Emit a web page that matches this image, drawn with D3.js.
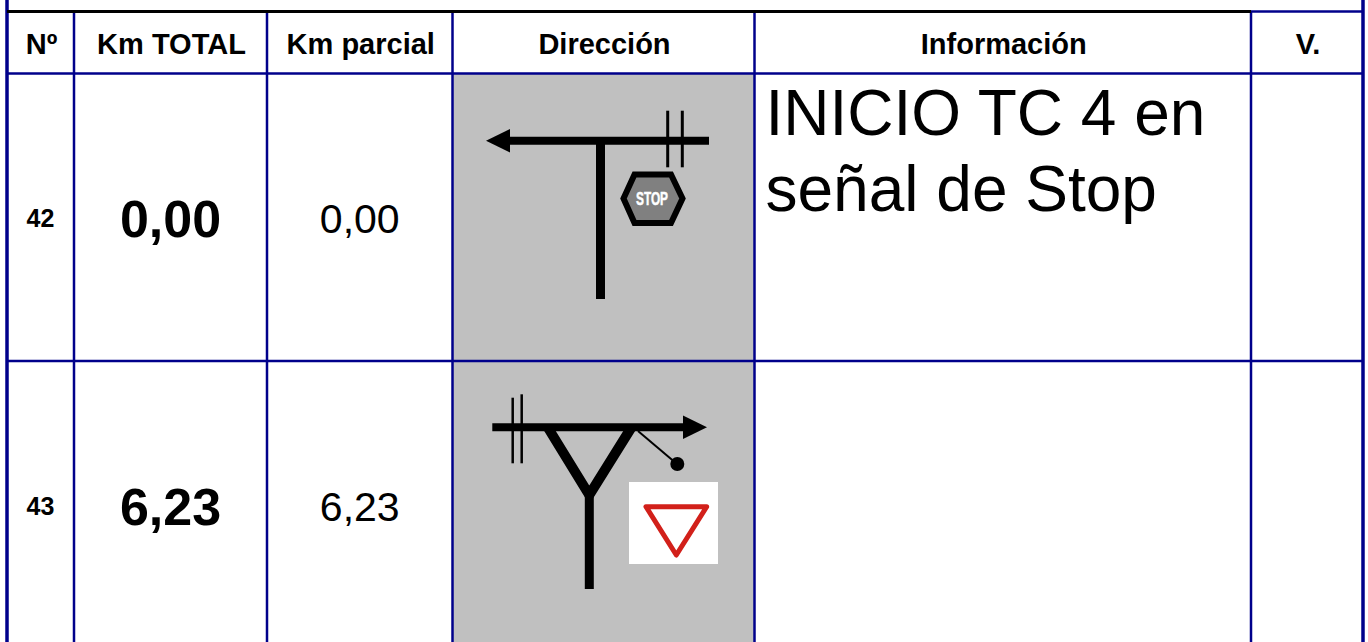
<!DOCTYPE html>
<html>
<head>
<meta charset="utf-8">
<script src="https://cdn.jsdelivr.net/npm/d3@7"></script>
<style>
    html, body { margin: 0; padding: 0; background: #fff; overflow: hidden; }
    svg { display: block; }
    text { font-family: "Liberation Sans", Arial, sans-serif; fill: #000; }
</style>
</head>
<body>
<div id="chart"></div>
<script>
// Table contents
const headers = ['Nº', 'Km TOTAL', 'Km parcial', 'Dirección', 'Información', 'V.'];
const rowNumbers = ['42', '43'];
const kmTotal = ['0,00', '6,23'];
const kmParcial = ['0,00', '6,23'];
const infoLines = [['INICIO TC 4 en', 'señal de Stop'], []];
const signs = ['stop', 'yield'];

const width = 1368, height = 642;
const blue = '#00008b';

const svg = d3.select('#chart').append('svg')
    .attr('width', width)
    .attr('height', height);

// Column edges and row edges
const colEdges = [7, 74, 267, 452.5, 754.5, 1251, 1363];
const rowEdges = [73.5, 361, 660];
const colLeft = d3.scaleOrdinal().domain(headers).range(colEdges.slice(0, -1));
const colRight = d3.scaleOrdinal().domain(headers).range(colEdges.slice(1));
const colMid = d => (colLeft(d) + colRight(d)) / 2;
const rowTop = d3.scaleOrdinal().domain(rowNumbers).range(rowEdges.slice(0, -1));
const rowBottom = d3.scaleOrdinal().domain(rowNumbers).range(rowEdges.slice(1));

// Grey cells of the direction column
svg.append('g').selectAll('rect')
    .data(rowNumbers)
    .enter().append('rect')
    .attr('x', colLeft('Dirección'))
    .attr('y', d => rowTop(d))
    .attr('width', colRight('Dirección') - colLeft('Dirección'))
    .attr('height', d => rowBottom(d) - rowTop(d))
    .attr('fill', '#c0c0c0');

// Grid lines
const grid = svg.append('g');
grid.selectAll('line.v')
    .data(colEdges)
    .enter().append('line')
    .attr('class', 'v')
    .attr('x1', d => d).attr('x2', d => d)
    .attr('y1', (d, i) => (i === 0 || i === colEdges.length - 1) ? 0 : 11)
    .attr('y2', height)
    .attr('stroke', blue)
    .attr('stroke-width', (d, i) => (i === 0 || i === colEdges.length - 1) ? 3.5 : 2.5);
grid.selectAll('line.h')
    .data(rowEdges.slice(0, 2))
    .enter().append('line')
    .attr('class', 'h')
    .attr('x1', colEdges[0]).attr('x2', colEdges[6])
    .attr('y1', d => d).attr('y2', d => d)
    .attr('stroke', blue)
    .attr('stroke-width', 2.5);
// Top border: black up to the V. column, then blue
grid.append('line')
    .attr('x1', colEdges[0]).attr('x2', colEdges[5])
    .attr('y1', 11.5).attr('y2', 11.5)
    .attr('stroke', '#000').attr('stroke-width', 3);
grid.append('line')
    .attr('x1', colEdges[5]).attr('x2', colEdges[6])
    .attr('y1', 11.5).attr('y2', 11.5)
    .attr('stroke', blue).attr('stroke-width', 2.5);

// Header labels
svg.append('g').selectAll('text')
    .data(headers)
    .enter().append('text')
    .attr('x', d => colMid(d) + 1)
    .attr('y', 53.5)
    .attr('text-anchor', 'middle')
    .attr('font-size', 29)
    .attr('font-weight', 'bold')
    .text(d => d);

// Row values
const rows = svg.append('g').selectAll('g')
    .data(rowNumbers)
    .enter().append('g');
const baseY = [232, 520];

rows.append('text')
    .attr('x', colMid('Nº'))
    .attr('y', (d, i) => baseY[i] - 5)
    .attr('text-anchor', 'middle')
    .attr('font-size', 25)
    .attr('font-weight', 'bold')
    .text(d => d);
rows.append('text')
    .attr('x', colMid('Km TOTAL'))
    .attr('y', (d, i) => baseY[i] + 5)
    .attr('text-anchor', 'middle')
    .attr('font-size', 52)
    .attr('font-weight', 'bold')
    .text((d, i) => kmTotal[i]);
rows.append('text')
    .attr('x', colMid('Km parcial'))
    .attr('y', (d, i) => baseY[i] + 1)
    .attr('text-anchor', 'middle')
    .attr('font-size', 41)
    .text((d, i) => kmParcial[i]);

// Information text
rows.each(function (d, i) {
    d3.select(this).selectAll('text.info')
        .data(infoLines[i])
        .enter().append('text')
        .attr('class', 'info')
        .attr('x', colLeft('Información') + 11)
        .attr('y', (t, j) => 135 + j * 76)
        .attr('font-size', 64)
        .text(t => t);
});

// Road diagrams
const line = d3.line();

function bar(g, pts, w) {
    g.append('path')
        .attr('d', line(pts))
        .attr('fill', 'none')
        .attr('stroke', '#000')
        .attr('stroke-width', w);
}

function drawStop(g) {
    bar(g, [[505, 140.7], [709, 140.7]], 8);
    g.append('path').attr('d', line([[486, 140.7], [510, 129], [510, 152.4]]) + 'Z').attr('fill', '#000');
    bar(g, [[600.5, 140], [600.5, 299]], 9);
    bar(g, [[667.7, 110.7], [667.7, 167.3]], 3);
    bar(g, [[682.3, 110.7], [682.3, 167.3]], 3);
    g.append('path')
        .attr('d', line([[623.5, 198.5], [634.5, 174.5], [671, 174.5], [682.5, 198.5], [671, 223], [634.5, 223]]) + 'Z')
        .attr('fill', '#808080')
        .attr('stroke', '#000')
        .attr('stroke-width', 6);
    g.append('text')
        .attr('x', 652).attr('y', 204.5)
        .attr('text-anchor', 'middle')
        .attr('font-size', 18)
        .attr('font-weight', 'bold')
        .attr('textLength', 32)
        .attr('lengthAdjust', 'spacingAndGlyphs')
        .style('fill', '#fff')
        .style('stroke', '#fff')
        .style('stroke-width', 0.5)
        .text('STOP');
}

function drawYield(g) {
    bar(g, [[492.3, 427.3], [690, 427.3]], 8);
    g.append('path').attr('d', line([[707, 427.3], [683, 415.5], [683, 439]]) + 'Z').attr('fill', '#000');
    bar(g, [[512.7, 397.7], [512.7, 463.3]], 2.5);
    bar(g, [[521.7, 394.3], [521.7, 463.3]], 2.5);
    g.append('path')
        .attr('d', line([[547.5, 427], [589.3, 495], [631.7, 427]]))
        .attr('fill', 'none')
        .attr('stroke', '#000')
        .attr('stroke-width', 10)
        .attr('stroke-linejoin', 'miter');
    bar(g, [[589.3, 493], [589.3, 589]], 9);
    bar(g, [[638, 431], [677, 464]], 2);
    g.append('circle').attr('cx', 677.3).attr('cy', 464).attr('r', 7).attr('fill', '#000');
    g.append('rect').attr('x', 629).attr('y', 482).attr('width', 89).attr('height', 82).attr('fill', '#fff');
    g.append('path')
        .attr('d', line([[646, 506.7], [706.7, 506.7], [676.3, 555]]) + 'Z')
        .attr('fill', 'none')
        .attr('stroke', '#d2201a')
        .attr('stroke-width', 5)
        .attr('stroke-linejoin', 'round');
}

signs.forEach(s => {
    const g = svg.append('g').attr('class', 'sign-' + s);
    if (s === 'stop') drawStop(g); else drawYield(g);
});
</script>
</body>
</html>
